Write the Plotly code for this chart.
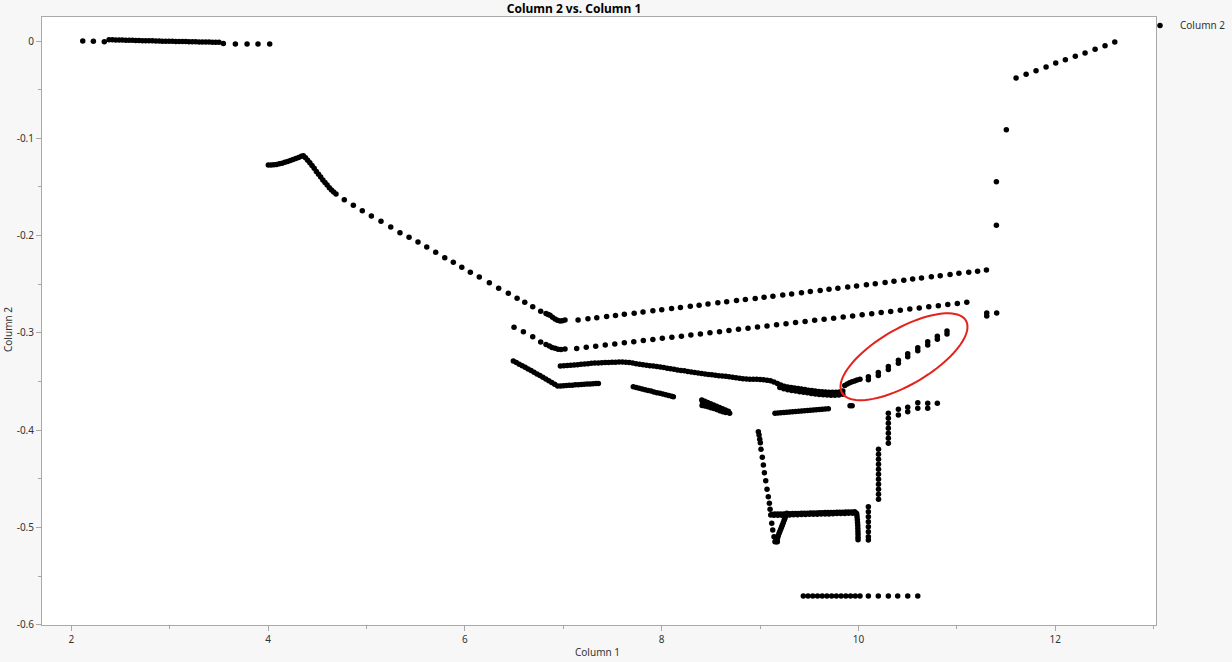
import numpy as np
import plotly.graph_objects as go

# ---------------- data ----------------
top_x = [2.116, 2.224, 2.335, 2.383, 2.417, 2.451, 2.485, 2.519, 2.553, 2.587, 2.621, 2.654, 2.688,
         2.722, 2.756, 2.790, 2.824, 2.858, 2.892, 2.925, 2.959, 2.993, 3.027, 3.061, 3.095, 3.129,
         3.163, 3.196, 3.230, 3.264, 3.298, 3.332, 3.366, 3.400, 3.434, 3.467, 3.501, 3.545, 3.667,
         3.786, 3.897, 4.016]
top_y = [0.0000, -0.0003, -0.0007, 0.0013, 0.0012, 0.0011, 0.0011, 0.0010, 0.0009, 0.0008, 0.0007,
         0.0006, 0.0005, 0.0004, 0.0004, 0.0003, 0.0002, 0.0001, 0.0000, -0.0001, -0.0002, -0.0002,
         -0.0003, -0.0004, -0.0005, -0.0006, -0.0006, -0.0007, -0.0008, -0.0008, -0.0009, -0.0010,
         -0.0010, -0.0011, -0.0012, -0.0012, -0.0013, -0.0025, -0.0031, -0.0031, -0.0031, -0.0031]

hump_x = [4.002, 4.030, 4.058, 4.086, 4.114, 4.142, 4.170, 4.198, 4.226, 4.254, 4.282, 4.310, 4.338,
          4.358, 4.380, 4.402, 4.424, 4.446, 4.468, 4.490, 4.512, 4.534, 4.556, 4.578, 4.600, 4.622,
          4.644, 4.666, 4.690]
hump_y = [-0.1274, -0.1274, -0.1272, -0.1268, -0.1262, -0.1255, -0.1247, -0.1238, -0.1228, -0.1218,
          -0.1207, -0.1196, -0.1185, -0.1179, -0.1200, -0.1225, -0.1252, -0.1280, -0.1307, -0.1340,
          -0.1370, -0.1398, -0.1428, -0.1453, -0.1480, -0.1507, -0.1530, -0.1552, -0.1572]

slope_x = [4.774, 4.866, 4.957, 5.049, 5.147, 5.246, 5.340, 5.432, 5.523, 5.612, 5.703, 5.795, 5.882,
           5.968, 6.055, 6.146, 6.248, 6.343, 6.441, 6.530, 6.608, 6.689, 6.770, 6.824, 6.845, 6.865,
           6.890, 6.916, 6.940, 6.967, 6.990, 7.017]
slope_y = [-0.1631, -0.1689, -0.1744, -0.1799, -0.1853, -0.1912, -0.1970, -0.2018, -0.2066, -0.2117,
           -0.2172, -0.2227, -0.2274, -0.2326, -0.2377, -0.2425, -0.2484, -0.2542, -0.2593, -0.2644,
           -0.2686, -0.2731, -0.2778, -0.2800, -0.2810, -0.2819, -0.2838, -0.2857, -0.2870, -0.2878,
           -0.2876, -0.2867]

lineA_x = [7.15, 7.25, 7.34, 7.44, 7.53, 7.62, 7.72, 7.81, 7.91, 8.00, 8.10, 8.19, 8.29, 8.38, 8.47,
           8.57, 8.66, 8.76, 8.85, 8.95, 9.04, 9.13, 9.23, 9.32, 9.42, 9.51, 9.61, 9.70, 9.79, 9.89,
           9.98, 10.08, 10.17, 10.27, 10.36, 10.46, 10.55, 10.64, 10.74, 10.83, 10.93, 11.02, 11.12,
           11.21, 11.30]
lineA_y = [-0.2867, -0.2855, -0.2844, -0.2831, -0.2820, -0.2809, -0.2797, -0.2785, -0.2773, -0.2762,
           -0.2750, -0.2738, -0.2726, -0.2715, -0.2704, -0.2691, -0.2680, -0.2668, -0.2657, -0.2645,
           -0.2633, -0.2622, -0.2610, -0.2599, -0.2586, -0.2575, -0.2563, -0.2552, -0.2541, -0.2528,
           -0.2517, -0.2505, -0.2494, -0.2481, -0.2470, -0.2458, -0.2447, -0.2436, -0.2423, -0.2412,
           -0.2400, -0.2388, -0.2376, -0.2365, -0.2354]

lineB_x = [6.499, 6.594, 6.689, 6.770, 6.824, 6.858, 6.885, 6.916, 6.946, 6.977, 7.017,
           7.136, 7.233, 7.329, 7.426, 7.523, 7.620, 7.716, 7.813, 7.910, 8.006, 8.103, 8.200, 8.296,
           8.393, 8.490, 8.587, 8.683, 8.780, 8.877, 8.973, 9.070, 9.167, 9.263, 9.360, 9.457, 9.554,
           9.650, 9.747, 9.844, 9.940, 10.037, 10.134, 10.230, 10.327, 10.424, 10.521, 10.617, 10.714,
           10.811, 10.907, 11.004, 11.100]
lineB_y = [-0.2942, -0.2988, -0.3039, -0.3094, -0.3119, -0.3135, -0.3150, -0.3158, -0.3169, -0.3171,
           -0.3166,
           -0.3160, -0.3148, -0.3137, -0.3125, -0.3114, -0.3102, -0.3091, -0.3079, -0.3068, -0.3056,
           -0.3044, -0.3033, -0.3021, -0.3010, -0.2998, -0.2987, -0.2975, -0.2963, -0.2952, -0.2940,
           -0.2929, -0.2917, -0.2906, -0.2894, -0.2883, -0.2871, -0.2859, -0.2848, -0.2836, -0.2825,
           -0.2813, -0.2802, -0.2790, -0.2779, -0.2767, -0.2755, -0.2744, -0.2732, -0.2721, -0.2709,
           -0.2698, -0.2686]

band_x = [6.970, 7.005, 7.040, 7.075, 7.110, 7.145, 7.180, 7.215, 7.250, 7.285, 7.320, 7.355, 7.390,
          7.425, 7.460, 7.495, 7.530, 7.565, 7.600, 7.635, 7.670, 7.705, 7.740, 7.775, 7.810, 7.845,
          7.880, 7.915, 7.950, 7.985, 8.020, 8.055, 8.090, 8.125, 8.160, 8.195, 8.230, 8.265, 8.300,
          8.335, 8.370, 8.405, 8.440, 8.475, 8.510, 8.545, 8.580, 8.615, 8.650, 8.685, 8.720, 8.755,
          8.790, 8.825, 8.860, 8.895, 8.930, 8.965, 9.000, 9.035, 9.070, 9.105, 9.140, 9.175, 9.210,
          9.245, 9.280, 9.315, 9.350, 9.385, 9.420, 9.455, 9.490, 9.525, 9.560, 9.595, 9.630, 9.665,
          9.700, 9.735, 9.770, 9.805, 9.840,
          9.200, 9.240, 9.280, 9.320, 9.360, 9.400, 9.440, 9.480, 9.520, 9.560, 9.600, 9.640, 9.680,
          9.720, 9.760, 9.800, 9.840]
band_y = [-0.3340, -0.3338, -0.3336, -0.3333, -0.3330, -0.3327, -0.3322, -0.3319, -0.3316, -0.3313,
          -0.3310, -0.3308, -0.3306, -0.3304, -0.3303, -0.3302, -0.3301, -0.3300, -0.3300, -0.3301,
          -0.3305, -0.3310, -0.3316, -0.3322, -0.3328, -0.3333, -0.3337, -0.3341, -0.3346, -0.3351,
          -0.3356, -0.3362, -0.3368, -0.3374, -0.3380, -0.3385, -0.3390, -0.3396, -0.3402, -0.3407,
          -0.3412, -0.3417, -0.3422, -0.3427, -0.3431, -0.3435, -0.3439, -0.3442, -0.3446, -0.3450,
          -0.3455, -0.3460, -0.3465, -0.3470, -0.3474, -0.3475, -0.3476, -0.3477, -0.3478, -0.3482,
          -0.3487, -0.3492, -0.3505, -0.3520, -0.3535, -0.3548, -0.3555, -0.3561, -0.3567, -0.3572,
          -0.3576, -0.3582, -0.3588, -0.3593, -0.3597, -0.3601, -0.3604, -0.3607, -0.3609, -0.3610,
          -0.3610, -0.3606, -0.3598,
          -0.3560, -0.3575, -0.3585, -0.3592, -0.3598, -0.3604, -0.3610, -0.3616, -0.3622, -0.3627,
          -0.3632, -0.3636, -0.3639, -0.3641, -0.3641, -0.3638, -0.3630]

lowA_x = [6.492, 6.522, 6.552, 6.582, 6.612, 6.642, 6.672, 6.702, 6.732, 6.762, 6.792, 6.822, 6.852,
          6.882, 6.912, 6.942, 6.972, 7.002, 7.032, 7.062, 7.092, 7.122, 7.152, 7.182, 7.212, 7.242,
          7.272, 7.302, 7.332, 7.356]
lowA_y = [-0.3289, -0.3305, -0.3321, -0.3337, -0.3354, -0.3370, -0.3387, -0.3404, -0.3421, -0.3438,
          -0.3456, -0.3474, -0.3492, -0.3510, -0.3528, -0.3545, -0.3546, -0.3544, -0.3541, -0.3539,
          -0.3537, -0.3534, -0.3532, -0.3530, -0.3528, -0.3526, -0.3524, -0.3522, -0.3520, -0.3519]

lowB_x = [7.711, 7.741, 7.771, 7.801, 7.831, 7.861, 7.891, 7.921, 7.951, 7.981, 8.011, 8.041, 8.071,
          8.101, 8.118]
lowB_y = [-0.3553, -0.3561, -0.3568, -0.3576, -0.3583, -0.3591, -0.3598, -0.3606, -0.3614, -0.3621,
          -0.3629, -0.3636, -0.3644, -0.3651, -0.3656]

lowC_x = [8.407, 8.437, 8.467, 8.497, 8.527, 8.557, 8.587, 8.617, 8.647, 8.677,
          8.410, 8.440, 8.470, 8.500, 8.530, 8.560, 8.590, 8.620, 8.650, 8.690,
          8.415, 8.445]
lowC_y = [-0.3690, -0.3702, -0.3715, -0.3728, -0.3741, -0.3754, -0.3767, -0.3780, -0.3793, -0.3806,
          -0.3745, -0.3752, -0.3760, -0.3768, -0.3777, -0.3788, -0.3799, -0.3809, -0.3818, -0.3826,
          -0.3718, -0.3727]

lowD_x = [9.151, 9.181, 9.211, 9.241, 9.271, 9.301, 9.331, 9.361, 9.391, 9.421, 9.451, 9.481, 9.511,
          9.541, 9.571, 9.601, 9.631, 9.661, 9.693, 9.914, 9.935]
lowD_y = [-0.3825, -0.3823, -0.3820, -0.3818, -0.3815, -0.3813, -0.3810, -0.3808, -0.3805, -0.3803,
          -0.3800, -0.3798, -0.3795, -0.3793, -0.3790, -0.3788, -0.3785, -0.3783, -0.3780, -0.3748,
          -0.3748]

circ_x = [9.860, 9.885, 9.910, 9.935, 9.960, 9.985, 10.015,
          10.100, 10.100, 10.201, 10.201, 10.303, 10.303, 10.405, 10.405, 10.500, 10.500,
          10.602, 10.602, 10.703, 10.703, 10.801, 10.801, 10.899, 10.899]
circ_y = [-0.3540, -0.3525, -0.3512, -0.3502, -0.3493, -0.3485, -0.3477,
          -0.3451, -0.3482, -0.3407, -0.3438, -0.3345, -0.3376, -0.3281, -0.3312, -0.3215, -0.3246,
          -0.3153, -0.3184, -0.3092, -0.3123, -0.3034, -0.3065, -0.2979, -0.3010]

uleft_x = [8.982, 8.989, 8.996, 9.002, 9.009, 9.022, 9.033, 9.043, 9.057, 9.070, 9.083, 9.094, 9.101,
           9.108, 9.118, 9.128, 9.141, 9.151]
uleft_y = [-0.4015, -0.4049, -0.4094, -0.4128, -0.4196, -0.4279, -0.4358, -0.4437, -0.4519, -0.4607,
           -0.4683, -0.4751, -0.4813, -0.4872, -0.4957, -0.5026, -0.5095, -0.5146]

udiag_x = [9.271, 9.262, 9.253, 9.244, 9.235, 9.226, 9.218, 9.209, 9.200, 9.192, 9.184, 9.177, 9.171,
           9.166, 9.175, 9.158]
udiag_y = [-0.4854, -0.4878, -0.4902, -0.4926, -0.4950, -0.4974, -0.4996, -0.5018, -0.5040, -0.5062,
           -0.5085, -0.5108, -0.5128, -0.5146, -0.5146, -0.5140]

ubar_x = [9.120, 9.150, 9.180, 9.210, 9.240, 9.270, 9.300, 9.330, 9.360, 9.390, 9.420, 9.450, 9.480,
          9.510, 9.540, 9.570, 9.600, 9.630, 9.660, 9.690, 9.720, 9.750, 9.780, 9.810, 9.840, 9.870,
          9.900, 9.930, 9.960,
          9.140, 9.180, 9.220, 9.260, 9.300, 9.340, 9.380, 9.420, 9.460, 9.500, 9.540, 9.580, 9.620,
          9.660, 9.700, 9.740, 9.780, 9.820, 9.860, 9.900, 9.940, 9.975]
ubar_y = [-0.4863, -0.4862, -0.4861, -0.4860, -0.4860, -0.4859, -0.4858, -0.4857, -0.4856, -0.4855,
          -0.4854, -0.4853, -0.4853, -0.4852, -0.4851, -0.4850, -0.4849, -0.4848, -0.4847, -0.4846,
          -0.4846, -0.4845, -0.4844, -0.4843, -0.4842, -0.4841, -0.4840, -0.4840, -0.4839,
          -0.4875, -0.4874, -0.4873, -0.4872, -0.4871, -0.4869, -0.4868, -0.4867, -0.4866, -0.4865,
          -0.4864, -0.4863, -0.4862, -0.4861, -0.4860, -0.4858, -0.4857, -0.4856, -0.4855, -0.4854,
          -0.4853, -0.4851]

uright_x = [9.982, 9.985, 9.988, 9.990, 9.992, 9.993, 9.994, 9.995, 9.995, 9.995,
            10.100, 10.100, 10.100, 10.100, 10.100, 10.100, 10.100, 10.100,
            10.203, 10.203, 10.203, 10.203, 10.203, 10.203, 10.203, 10.203, 10.203, 10.203, 10.203,
            10.303, 10.303, 10.303, 10.303, 10.303, 10.303, 10.303,
            10.405, 10.405, 10.500, 10.500, 10.602, 10.602, 10.703, 10.703, 10.801]
uright_y = [-0.4860, -0.4890, -0.4920, -0.4950, -0.4980, -0.5010, -0.5040, -0.5070, -0.5100, -0.5125,
            -0.4786, -0.4837, -0.4889, -0.4940, -0.4991, -0.5043, -0.5094, -0.5128,
            -0.4196, -0.4248, -0.4299, -0.4351, -0.4402, -0.4453, -0.4505, -0.4556, -0.4607, -0.4659,
            -0.4710,
            -0.3826, -0.3877, -0.3929, -0.3980, -0.4031, -0.4083, -0.4134,
            -0.3785, -0.3844, -0.3765, -0.3810, -0.3717, -0.3775, -0.3724, -0.3775, -0.3724]

floor_x = [9.439, 9.487, 9.535, 9.583, 9.631, 9.679, 9.727, 9.775, 9.823, 9.871, 9.919, 9.967, 10.015,
           10.100, 10.201, 10.303, 10.398, 10.500, 10.602]
floor_y = [-0.5704] * 19

upper_x = [11.303, 11.303, 11.404, 11.401, 11.401, 11.502,
           11.601, 11.703, 11.804, 11.906, 12.004, 12.102, 12.203, 12.302, 12.404, 12.505, 12.604]
upper_y = [-0.2796, -0.2827, -0.2796, -0.1894, -0.1446, -0.0911,
           -0.0380, -0.0342, -0.0305, -0.0267, -0.0226, -0.0192, -0.0157, -0.0123, -0.0085, -0.0048,
           -0.0010]

x_ticks = [2, 4, 6, 8, 10, 12]
x_labels = ["2", "4", "6", "8", "10", "12"]
x_minor = [3, 5, 7, 9, 11, 13]
y_ticks = [0, -0.1, -0.2, -0.3, -0.4, -0.5, -0.6]
y_labels = ["0", "-0.1", "-0.2", "-0.3", "-0.4", "-0.5", "-0.6"]
y_minor = [-0.05, -0.15, -0.25, -0.35, -0.45, -0.55]

# ---------------- figure ----------------
xs = (top_x + hump_x + slope_x + lineA_x + lineB_x + band_x + lowA_x + lowB_x + lowC_x + lowD_x
      + circ_x + uleft_x + udiag_x + ubar_x + uright_x + floor_x + upper_x)
ys = (top_y + hump_y + slope_y + lineA_y + lineB_y + band_y + lowA_y + lowB_y + lowC_y + lowD_y
      + circ_y + uleft_y + udiag_y + ubar_y + uright_y + floor_y + upper_y)

FONT = "Segoe UI, Noto Sans, Open Sans, sans-serif"
AX = "#a8a8a8"

fig = go.Figure()
fig.add_trace(go.Scatter(x=xs, y=ys, mode="markers", name="Column 2", showlegend=True,
                         marker=dict(color="black", size=5.5, line=dict(width=0))))

# red highlight ellipse (annotation drawn around the circled points)
XR = [1.702, 13.023]
YR = [-0.6002, 0.0247]
px_per_x = 1114 / (XR[1] - XR[0])
px_per_y = 608 / (YR[1] - YR[0])
cx, cy, a_px, b_px, th = 10.462, -0.3245, 71.7, 27.9, np.radians(30.3)
t = np.linspace(0, 2 * np.pi, 91)
ex = cx + (a_px * np.cos(t) * np.cos(th) - b_px * np.sin(t) * np.sin(th)) / px_per_x
ey = cy + (a_px * np.cos(t) * np.sin(th) + b_px * np.sin(t) * np.cos(th)) / px_per_y
path = "M " + " L ".join(f"{a:.4f},{b:.5f}" for a, b in zip(ex, ey)) + " Z"
fig.add_shape(type="path", path=path, xref="x", yref="y", line=dict(color="#e4221c", width=2))

fig.update_layout(
    width=1232, height=662,
    margin=dict(l=42, r=76, t=17, b=37, autoexpand=False),
    paper_bgcolor="#f7f7f7", plot_bgcolor="white",
    font=dict(family=FONT, size=10, color="#333333"),
    title=dict(text="<b>Column 2 vs. Column 1</b>", x=574 / 1232, xanchor="center",
               y=1 - 8.5 / 662, yanchor="middle", font=dict(family=FONT, size=12, color="black")),
    showlegend=True,
    legend=dict(x=(1140 - 42) / 1114, xanchor="left", y=1 + 6 / 608, yanchor="top",
                bgcolor="rgba(0,0,0,0)", font=dict(size=10, color="#333333"),
                itemwidth=30, borderwidth=0),
    xaxis=dict(range=XR, tickvals=x_ticks, ticktext=x_labels, ticks="outside", ticklen=5,
               tickcolor=AX, showline=True, linecolor=AX, linewidth=1, mirror=True,
               showgrid=False, zeroline=False,
               minor=dict(tickvals=x_minor, ticks="outside", ticklen=3, tickcolor=AX)),
    yaxis=dict(range=YR, tickvals=y_ticks, ticktext=y_labels, ticks="outside", ticklen=5,
               tickcolor=AX, showline=True, linecolor=AX, linewidth=1, mirror=True,
               showgrid=False, zeroline=False,
               minor=dict(tickvals=y_minor, ticks="outside", ticklen=3, tickcolor=AX)),
    annotations=[
        dict(text="Column 1", xref="paper", yref="paper", x=(597 - 42) / 1114, y=-(652 - 625) / 608,
             xanchor="center", yanchor="middle", showarrow=False, font=dict(size=10)),
        dict(text="Column 2", xref="paper", yref="paper", x=(8 - 42) / 1114, y=(625 - 330) / 608,
             xanchor="center", yanchor="middle", textangle=-90, showarrow=False, font=dict(size=10)),
    ],
)

fig.write_html("out.html", config={"displayModeBar": False},
               post_script="document.body.style.margin='0';")
